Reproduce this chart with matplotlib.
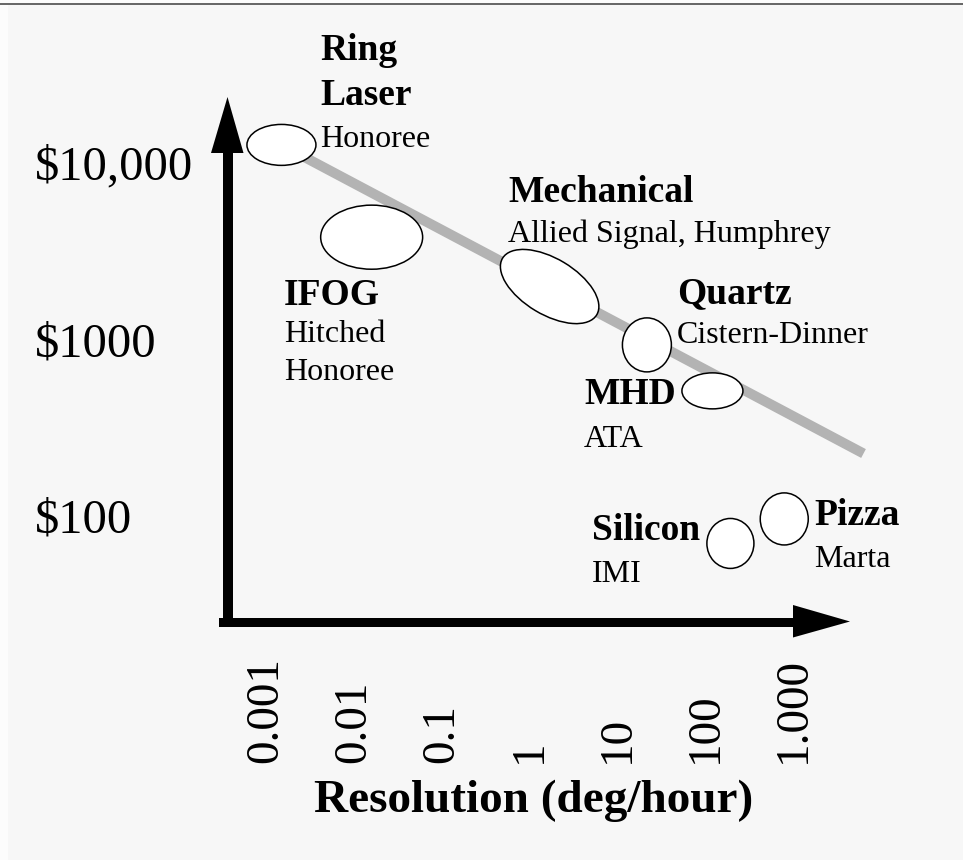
import matplotlib
matplotlib.use("Agg")
import matplotlib.pyplot as plt
from matplotlib.patches import Ellipse, Polygon, Rectangle
from matplotlib.lines import Line2D
import matplotlib.transforms as mtransforms

# ---------------- data ----------------
gyro_types = ["Ring Laser", "IFOG", "Mechanical", "Quartz", "MHD", "Silicon", "Pizza"]
makers = ["Honoree", "Hitched\nHonoree", "Allied Signal, Humphrey", "Cistern-Dinner",
          "ATA", "IMI", "Marta"]
resolution = [0.0016, 0.017, 1.8, 23, 128, 205, 840]        # deg/hour (centre)
cost = [12500, 3750, 1970, 920, 505, 69, 95]                # $ (centre)
res_span = [0.785, 1.16, 1.25, 0.557, 0.694, 0.535, 0.546]  # decades of resolution
cost_span = [0.232, 0.363, 0.317, 0.306, 0.204, 0.283, 0.295]  # decades of cost
trend_res = [0.0016, 6700]
trend_cost = [12500, 223]
x_ticks = [0.001, 0.01, 0.1, 1, 10, 100, 1000]
x_tick_labels = ["0.001", "0.01", "0.1", "1", "10", "100", "1.000"]
y_ticks = [100, 1000, 10000]
y_tick_labels = ["$100", "$1000", "$10,000"]
x_label = "Resolution (deg/hour)"

# ---------------- layout / style ----------------
W, H = 963, 860
plt.rcParams["font.family"] = ["Liberation Serif", "DejaVu Serif"]
ellipse_angle = [0, 0, -31, 0, 0, 0, 0]
# label lines: (text, bold, x_px, baseline_px)
label_layout = [
    [("Ring", True, 320, 60), ("Laser", True, 320, 105), ("Honoree", False, 320, 147)],
    [("IFOG", True, 284, 305), ("Hitched", False, 284, 342), ("Honoree", False, 284, 380)],
    [("Mechanical", True, 508, 202), ("Allied Signal, Humphrey", False, 508, 242)],
    [("Quartz", True, 677, 303), ("Cistern-Dinner", False, 677, 343)],
    [("MHD", True, 584, 404), ("ATA", False, 584, 447)],
    [("Silicon", True, 592, 540), ("IMI", False, 592, 582)],
    [("Pizza", True, 814, 525), ("Marta", False, 814, 567)],
]


def P(x, y):
    return (x / W, 1 - y / H)


fig = plt.figure(figsize=(W / 100, H / 100), dpi=100)
fig.patch.set_facecolor("#fcfcfc")
fig.patches.append(Rectangle((8 / W, 0), 1 - 8 / W, 1 - 4 / H, transform=fig.transFigure,
                             facecolor="#f7f7f7", edgecolor="none", zorder=-2))
fig.lines.append(Line2D([0, 1], [1 - 3.5 / H] * 2, transform=fig.transFigure,
                        color="#5a5a5a", lw=1.3, zorder=-1))

ax = fig.add_axes([0, 0, 1, 1])
ax.set_xscale("log")
ax.set_yscale("log")
ax.set_xlim(10 ** (-3 - 263.5 / 87.9), 10 ** (-3 + (W - 263.5) / 87.9))
ax.set_ylim(10 ** (4 - (H - 162) / 176.5), 10 ** (4 + 162 / 176.5))
ax.set_axis_off()

# trend line
ax.plot(trend_res, trend_cost, color="#b3b3b3", lw=7.2, solid_capstyle="butt", zorder=1)

# ellipses
o = ax.transData.transform((1, 1))
pxx = ax.transData.transform((10, 1))[0] - o[0]
pxy = ax.transData.transform((1, 10))[1] - o[1]
for r, c, sx, sy, ang in zip(resolution, cost, res_span, cost_span, ellipse_angle):
    cx, cy = ax.transData.transform((r, c))
    e = Ellipse((cx, cy), sx * pxx, sy * pxy, angle=ang,
                transform=mtransforms.IdentityTransform(),
                facecolor="white", edgecolor="black", lw=1.1, zorder=3)
    ax.add_artist(e)

# axes arrows (pixel layout)
tf = fig.transFigure
fig.patches.append(Polygon([P(223, 627), P(232.5, 627), P(232.5, 150), P(223, 150)],
                           closed=True, transform=tf, facecolor="black", edgecolor="none"))
fig.patches.append(Polygon([P(211, 153), P(243.5, 153), P(227.5, 97)],
                           closed=True, transform=tf, facecolor="black", edgecolor="none"))
fig.patches.append(Polygon([P(219, 617.5), P(796, 617.5), P(796, 627), P(219, 627)],
                           closed=True, transform=tf, facecolor="black", edgecolor="none"))
fig.patches.append(Polygon([P(793, 605), P(793, 637.5), P(850, 621.5)],
                           closed=True, transform=tf, facecolor="black", edgecolor="none"))

# y tick labels
ytrans = mtransforms.offset_copy(
    mtransforms.blended_transform_factory(ax.transAxes, ax.transData),
    fig=fig, x=0, y=-17.5, units="dots")
for v, lab in zip(y_ticks, y_tick_labels):
    ax.text(35 / W, v, lab, transform=ytrans, ha="left", va="baseline",
            fontsize=35, parse_math=False, color="black")

# x tick labels
xtrans = mtransforms.offset_copy(
    mtransforms.blended_transform_factory(ax.transData, ax.transAxes),
    fig=fig, x=14, y=0, units="dots")
for v, lab in zip(x_ticks, x_tick_labels):
    ax.text(v, 1 - 763 / H, lab, transform=xtrans, rotation=90, rotation_mode="anchor",
            ha="left", va="baseline", fontsize=34, color="black")

fig.text(534 / W, 1 - 812 / H, x_label, ha="center", va="baseline",
         fontsize=34, fontweight="bold")

# category labels
for lines in label_layout:
    for txt, bold, x, y in lines:
        fig.text(x / W, 1 - y / H, txt, ha="left", va="baseline",
                 fontsize=27 if bold else 23,
                 fontweight="bold" if bold else "normal", color="black")

fig.savefig("out.png", dpi=100, facecolor=fig.get_facecolor())
